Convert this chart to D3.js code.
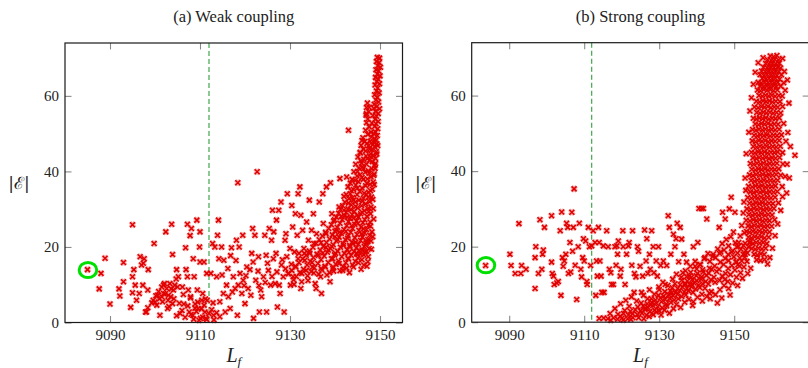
<!DOCTYPE html>
<html>
<head>
<meta charset="utf-8">
<script src="https://cdn.jsdelivr.net/npm/d3@7"></script>
<style>
  body { margin: 0; background: #fff; }
  .axis line { stroke: #8a8a8a; stroke-width: 1.1; }
</style>
</head>
<body>
<svg id="chart" width="808" height="368"></svg>
<script>
// tick labels and panel settings
const xTicks = [9090, 9110, 9130, 9150];
const yTicks = [0, 20, 40, 60];
const titles = ['(a) Weak coupling', '(b) Strong coupling'];
const thresholdLf = 9112;
const weakDomain = [9080, 9155];
const strongDomain = [9080, 9170];
const yDomain = [0, 74];
const weakMarked = [9085.1, 13.9];
const strongMarked = [9083.8, 15.1];

// (a) weak coupling: scattered samples
const weakScatter = [
  [9085.0,14.0],[9088.0,13.0],[9087.6,8.9],[9088.9,17.0],[9090.0,4.9],[9092.0,8.9],[9092.2,7.0],[9093.0,15.9],
  [9093.0,10.8],[9094.6,4.0],[9095.0,25.9],[9095.0,12.1],[9095.0,7.9],[9095.3,14.0],[9095.6,9.9],[9095.9,5.9],
  [9096.5,7.7],[9096.7,17.4],[9097.0,15.2],[9097.3,9.9],[9097.4,15.7],[9097.6,16.9],[9097.9,2.8],[9098.1,2.8],
  [9098.5,14.0],[9098.4,8.6],[9099.6,5.9],[9099.8,20.9],[9100.0,5.4],[9100.4,4.6],[9100.6,7.2],[9101.0,6.3],
  [9101.1,1.9],[9101.5,9.4],[9101.7,5.5],[9101.9,7.7],[9102.1,10.3],[9102.4,24.0],[9102.6,9.0],[9102.8,3.7],
  [9103.0,7.2],[9103.3,10.3],[9103.5,6.8],[9103.7,26.0],[9103.9,18.0],[9103.9,5.0],[9104.1,8.6],[9104.4,9.9],
  [9104.8,14.0],[9104.8,1.8],[9105.2,12.1],[9105.6,2.4],[9106.1,9.4],[9106.4,4.9],[9106.8,19.8],[9106.9,14.0],
  [9107.2,26.0],[9107.2,12.1],[9107.4,8.6],[9107.6,2.8],[9107.8,23.0],[9107.9,6.8],[9108.1,24.9],[9108.4,1.9],
  [9108.5,16.9],[9108.7,12.1],[9108.9,4.9],[9109.3,27.1],[9109.4,8.6],[9109.6,3.7],[9109.9,20.0],[9110.0,24.0],
  [9110.0,16.0],[9110.1,1.1],[9110.4,5.9],[9110.6,7.7],[9110.9,16.0],[9111.1,2.8],[9111.3,1.1],[9111.5,13.0],
  [9111.6,5.9],[9112.4,13.0],[9112.8,20.9],[9113.0,1.9],[9113.3,20.0],[9113.7,12.1],[9113.9,23.1],[9114.1,27.1],
  [9114.2,16.9],[9114.4,5.5],[9114.8,20.0],[9115.2,7.7],[9115.3,16.5],[9115.6,2.8],[9115.9,9.9],[9116.3,6.8],
  [9116.7,3.7],[9117.0,19.8],[9117.4,12.1],[9117.8,9.0],[9118.1,21.8],[9118.3,1.9],[9118.4,37.0],[9118.5,9.9],
  [9118.7,20.0],[9118.9,13.0],[9119.3,7.7],[9119.5,23.1],[9119.6,11.2],[9120.0,5.0],[9120.4,14.7],[9120.7,9.0],
  [9121.1,14.0],[9121.5,18.3],[9121.7,24.9],[9121.9,1.1],[9122.2,23.1],[9122.4,11.2],[9122.7,39.9],[9123.0,17.4],
  [9123.2,2.8],[9123.5,8.6],[9123.7,6.8],[9124.1,12.1],[9124.4,23.1],[9124.7,17.8],[9124.8,2.8],[9125.2,13.8],
  [9125.4,24.9],[9125.7,9.9],[9125.9,21.8],[9126.1,29.7],[9126.3,16.9],[9126.4,24.0],[9126.7,10.3],[9126.9,18.3],
  [9127.0,27.1],[9127.2,4.1],[9127.5,29.7],[9127.6,9.9],[9127.8,7.7],[9128.0,31.9],[9128.1,15.2],[9128.5,12.1],
  [9128.7,2.8],[9128.9,21.8],[9129.1,23.5],[9129.3,17.4],[9129.4,34.1],[9129.7,13.0],[9130.0,19.6],[9130.1,9.9],
  [9130.4,31.0],[9130.6,25.3],[9130.7,12.1],[9131.0,18.7],[9131.2,28.8],[9131.3,14.7],[9131.6,23.1],[9131.8,34.1],
  [9132.0,18.3],[9132.2,35.9],[9132.4,28.4],[9132.6,13.0],[9132.8,24.4],[9133.1,19.6],[9133.3,16.5],[9133.6,13.8],
  [9133.7,26.6],[9134.1,21.8],[9134.3,32.4],[9134.4,18.3],[9134.8,24.4],[9135.0,14.7],[9135.2,28.8],[9135.3,20.9],
  [9135.6,10.3],[9135.8,9.0],[9135.9,23.5],[9136.3,17.8],[9136.5,31.9],[9136.8,12.1],[9137.0,7.7],[9137.3,34.1],
  [9137.4,26.2],[9137.8,14.7],[9138.0,23.5],[9138.1,35.9],[9138.5,19.2],[9138.9,10.8],[9139.0,37.0],[9139.3,28.8],
  [9139.5,16.9],[9139.6,14.7],[9140.0,22.7],[9140.4,24.4],[9141.1,38.1],[9141.7,13.8],[9142.6,38.5],[9143.0,50.9],
  [9143.3,20.0],[9144.1,32.4],[9144.8,18.3],[9145.6,45.1],[9146.0,48.2],[9146.4,15.2],[9146.7,18.7],[9147.0,21.3],
  [9147.4,17.4],[9147.6,57.0],[9147.0,55.3]
];

// (a) weak coupling: clump near the threshold at low |E|
const weakLow = [
  [9100.8,8.2],[9101.5,6.8],[9102.3,7.6],[9102.9,5.9],[9103.6,8.9],[9104.2,6.3],[9101.9,9.9],[9100.2,7.1],
  [9103.1,4.2],[9105.4,5.1],[9106.0,3.2],[9106.7,1.4],[9107.3,4.4],[9108.0,2.1],[9108.6,0.9],[9109.2,2.9],
  [9109.8,0.6],[9110.3,3.6],[9110.9,4.6],[9111.5,0.8],[9112.0,2.4],[9112.6,3.4],[9113.1,0.7],[9113.7,2.6],
  [9114.4,1.5],[9111.2,6.2],[9109.5,5.4],[9107.9,6.5],[9106.3,7.4],[9105.0,9.4],[9104.7,11.5],[9099.3,5.2],
  [9098.4,3.9],[9112.9,5.2],[9110.6,1.4],[9108.9,3.8],[9117.2,8.1],[9119.8,9.8],[9121.3,7.2],[9122.9,13.6]
];

// (a) weak coupling: dense branch close to 9150
const weakCluster = [
  [9149.4,70.2],[9149.9,70.0],[9149.2,69.1],[9149.8,68.8],[9149.5,68.0],[9150.1,67.6],[9149.1,66.9],[9149.7,66.6],
  [9149.4,65.8],[9150.0,65.3],[9149.0,64.9],[9149.6,64.4],[9149.3,63.8],[9149.9,63.2],[9148.9,62.9],[9149.5,62.1],
  [9149.2,61.3],[9149.8,60.8],[9148.8,60.3],[9149.4,59.6],[9149.1,58.9],[9149.7,58.4],[9148.7,57.8],[9149.3,57.2],
  [9149.9,56.6],[9147.2,58.1],[9149.0,55.9],[9149.6,55.3],[9147.0,56.9],[9148.6,56.7],[9149.2,54.6],[9147.5,55.8],
  [9148.9,53.8],[9149.6,53.2],[9146.9,54.9],[9148.4,54.8],[9149.1,52.6],[9147.3,53.9],[9148.8,51.9],[9149.5,51.3],
  [9147.0,52.9],[9148.2,52.8],[9149.0,50.4],[9147.6,51.8],[9148.6,50.0],[9149.4,49.5],[9146.8,50.9],[9148.1,49.1],
  [9148.9,48.6],[9147.3,49.8],[9148.5,47.8],[9149.3,47.3],[9146.2,48.9],[9147.8,48.0],[9148.9,46.4],[9146.6,47.9],
  [9148.2,45.8],[9149.2,45.2],[9145.8,46.9],[9147.4,46.8],[9148.6,44.2],[9146.3,45.9],[9147.9,44.7],[9149.0,43.4],
  [9145.6,44.9],[9146.9,44.1],[9148.3,42.6],[9145.1,43.8],[9146.4,43.2],[9147.6,42.9],[9148.8,41.6],[9145.7,42.8],
  [9147.0,41.9],[9148.2,40.7],[9144.6,41.9],[9146.1,41.2],[9147.4,40.2],[9148.7,39.3],[9145.3,40.9],[9146.7,39.8],
  [9148.0,38.5],[9144.2,39.9],[9145.6,39.1],[9147.2,38.0],[9148.5,37.2],[9144.9,38.8],[9146.3,37.9],[9147.8,36.6],
  [9143.8,37.9],[9145.2,37.3],[9146.8,36.2],[9148.3,35.3],[9143.4,36.9],[9144.6,36.4],[9146.0,35.6],[9147.5,34.5],
  [9142.9,35.9],[9144.1,35.2],[9145.5,34.7],[9146.9,33.9],[9148.1,33.2],[9143.6,34.9],[9144.9,33.8],[9146.3,32.9],
  [9147.7,32.0],[9142.5,33.9],[9143.9,33.1],[9145.3,32.4],[9146.8,31.4],[9148.0,30.6],[9143.1,32.8],[9144.5,31.9],
  [9145.9,30.9],[9147.3,30.2],[9142.2,31.9],[9143.6,31.2],[9145.0,30.4],[9146.5,29.6],[9147.9,28.8],[9141.7,30.9],
  [9142.9,30.1],[9144.3,29.4],[9145.7,28.8],[9147.1,28.1],[9141.2,29.9],[9142.5,29.2],[9143.8,28.6],[9145.2,27.9],
  [9146.6,27.2],[9147.8,26.6],[9140.8,28.9],[9142.1,28.3],[9143.4,27.6],[9144.8,26.9],[9146.2,26.4],[9147.4,25.7],
  [9140.3,27.9],[9141.6,27.2],[9143.0,26.7],[9144.4,26.0],[9145.8,25.3],[9147.0,24.6],[9148.2,24.0],[9139.7,26.9],
  [9141.1,26.3],[9142.6,25.6],[9143.9,24.9],[9145.3,24.4],[9146.6,23.7],[9147.7,23.1],[9139.2,25.9],[9140.5,25.2],
  [9142.0,24.6],[9143.5,23.9],[9144.9,23.3],[9146.1,22.6],[9147.3,22.0],[9138.6,24.9],[9140.0,24.2],[9141.4,23.6],
  [9142.9,22.9],[9144.4,22.4],[9145.7,21.7],[9146.9,21.0],[9148.0,21.6],[9137.9,23.9],[9139.4,23.2],[9140.9,22.6],
  [9142.3,21.9],[9143.8,21.3],[9145.2,20.7],[9146.5,20.1],[9147.6,19.6],[9137.2,22.9],[9138.8,22.1],[9140.3,21.6],
  [9141.8,20.9],[9143.3,20.4],[9144.7,19.7],[9146.0,19.2],[9136.5,21.9],[9138.1,21.2],[9139.6,20.6],[9141.2,19.9],
  [9142.7,19.3],[9144.2,18.8],[9145.6,18.2],[9147.0,18.9],[9135.8,20.9],[9137.4,20.1],[9139.0,19.6],[9140.6,18.9],
  [9142.1,18.3],[9143.6,17.8],[9145.1,17.1],[9135.1,19.9],[9136.7,19.2],[9138.3,18.6],[9139.9,17.9],[9141.5,17.4],
  [9143.0,16.8],[9144.5,16.2],[9146.0,16.6],[9147.3,16.1],[9134.3,18.9],[9136.0,18.1],[9137.6,17.6],[9139.2,16.9],
  [9140.8,16.3],[9142.4,15.8],[9143.9,15.2],[9133.6,17.8],[9135.2,17.2],[9136.9,16.6],[9138.5,15.9],[9140.2,15.4],
  [9141.8,14.8],[9146.4,17.9],[9132.8,16.9],[9134.5,16.2],[9136.2,15.6],[9137.8,14.9],[9139.5,14.3],[9141.1,13.7],
  [9132.0,15.8],[9133.8,15.2],[9135.4,14.5],[9137.1,13.9],[9138.8,13.2],[9131.2,14.9],[9133.0,14.1],[9134.7,13.5],
  [9136.4,12.8],[9130.4,13.8],[9132.2,13.2],[9133.9,12.4],[9129.6,12.9],[9131.4,12.2],[9130.8,11.3],[9132.6,10.8]
];

// (a) weak coupling: extra samples filling the branch
const weakFill = [
  [9141.9,20.4],[9143.1,18.6],[9144.0,20.9],[9145.4,19.1],[9146.8,20.5],[9148.1,19.4],[9142.8,22.3],[9144.6,21.2],
  [9145.9,23.4],[9147.3,21.4],[9148.4,22.7],[9140.6,21.9],[9139.3,20.1],[9138.0,19.9],[9136.9,21.1],[9141.0,23.9],
  [9142.4,24.1],[9143.7,25.6],[9145.1,26.2],[9146.3,24.8],[9147.9,25.5],[9148.6,27.4],[9144.1,27.6],[9142.7,27.9],
  [9141.4,28.1],[9139.9,27.2],[9140.9,30.6],[9142.0,29.7],[9143.5,29.9],[9144.9,28.4],[9146.0,29.2],[9147.5,29.4],
  [9148.5,30.1],[9143.0,31.6],[9144.6,30.7],[9146.1,32.1],[9147.4,33.2],[9148.4,32.6],[9142.0,33.4],[9143.4,34.1],
  [9145.0,35.6],[9146.5,34.2],[9147.9,34.9],[9148.7,36.5],[9144.5,37.6],[9146.0,38.4],[9147.1,36.9],[9148.6,38.9],
  [9145.0,40.0],[9146.3,40.7],[9147.6,39.5],[9148.9,40.8],[9145.9,42.2],[9147.2,43.4],[9148.0,43.9],[9149.0,42.1],
  [9146.8,45.4],[9147.7,45.9],[9148.4,47.1],[9149.3,44.6],[9147.1,47.4],[9148.0,50.4],[9149.1,48.2],[9149.5,46.8],
  [9135.3,13.1],[9136.9,14.3],[9138.2,12.6],[9139.7,13.6],[9140.9,15.6],[9142.6,14.4],[9143.2,13.2],[9144.1,14.7],
  [9145.2,15.8],[9145.8,14.1],[9147.1,14.9],[9142.9,17.0],[9144.9,18.1],[9140.1,18.3],[9137.3,18.4],[9134.9,15.9],
  [9133.2,18.3],[9131.8,16.9],[9130.3,15.4],[9129.0,14.2],[9128.3,16.6],[9127.1,13.4],[9126.0,12.2],[9124.5,10.6],
  [9123.1,9.8],[9130.9,10.1],[9132.4,9.0],[9134.0,11.1],[9125.0,15.7],[9121.8,16.0],[9120.2,12.4],[9118.0,16.4],
  [9116.2,14.3],[9114.9,12.6],[9116.8,17.7]
];

// (b) strong coupling: scattered samples
const strongScatter = [
  [9083.7,15.0],[9090.2,18.0],[9090.5,15.0],[9091.6,12.9],[9092.6,26.1],[9093.1,12.9],[9093.3,15.0],[9094.5,14.0],
  [9096.9,8.9],[9096.9,17.1],[9097.1,20.0],[9097.8,12.9],[9098.2,27.1],[9098.7,14.0],[9098.9,18.0],[9099.1,19.1],
  [9099.4,25.1],[9101.3,28.2],[9101.3,15.9],[9101.5,12.9],[9101.8,12.2],[9102.0,10.0],[9102.7,10.4],[9103.1,10.8],
  [9103.6,24.2],[9103.8,7.1],[9104.0,29.2],[9104.2,17.1],[9104.4,14.8],[9104.7,16.2],[9105.1,18.0],[9105.3,26.2],
  [9105.6,25.1],[9105.8,12.9],[9106.2,21.1],[9106.4,13.3],[9106.7,29.1],[9106.9,18.8],[9107.1,25.1],[9107.3,35.3],
  [9107.6,15.1],[9108.0,6.0],[9108.4,20.0],[9108.7,26.2],[9109.1,14.0],[9109.3,12.0],[9109.6,17.1],[9109.8,22.1],
  [9110.0,16.2],[9110.4,21.5],[9110.7,10.8],[9110.8,10.0],[9111.1,25.1],[9111.4,20.0],[9111.7,15.0],[9112.0,20.2],
  [9112.4,24.2],[9112.9,21.1],[9113.1,7.1],[9113.3,16.2],[9113.5,12.2],[9113.8,25.1],[9114.0,21.1],[9114.2,16.2],
  [9114.5,12.2],[9114.7,7.9],[9115.1,20.2],[9115.3,7.9],[9116.0,24.2],[9116.4,20.0],[9116.7,14.0],[9117.1,13.1],
  [9117.3,10.0],[9117.8,10.0],[9118.2,20.0],[9118.5,15.1],[9118.7,20.2],[9118.9,18.0],[9119.1,21.5],[9119.6,12.2],
  [9119.8,14.0],[9120.3,24.2],[9120.4,20.0],[9120.9,10.0],[9121.3,18.0],[9121.8,20.2],[9122.0,21.1],[9122.7,15.1],
  [9122.9,24.2],[9123.4,12.9],[9123.8,12.0],[9124.2,20.0],[9124.5,18.8],[9124.9,14.8],[9125.3,7.9],[9125.6,12.2],
  [9126.1,24.4],[9126.5,16.2],[9126.7,22.1],[9127.0,12.9],[9127.4,18.0],[9127.6,14.0],[9128.0,24.2],[9128.4,20.0],
  [9128.6,13.1],[9129.2,16.2],[9129.5,12.2],[9129.8,20.0],[9130.0,8.6],[9130.4,15.0],[9131.1,16.2],[9131.6,10.0],
  [9132.0,15.0],[9132.4,28.2],[9132.7,25.1],[9133.1,18.0],[9133.3,7.7],[9133.8,23.3],[9134.2,20.0],[9134.5,22.1],
  [9134.8,26.2],[9135.2,16.0],[9135.6,25.1],[9136.0,22.0],[9136.3,13.1],[9136.6,18.0],[9136.9,10.0],[9137.3,15.9],
  [9138.0,12.2],[9138.7,10.0],[9139.1,20.0],[9139.6,14.8],[9140.3,21.1],[9140.6,30.1],[9141.3,30.1],[9141.8,30.1],
  [9142.2,17.1],[9142.7,27.3],[9143.4,7.7],[9144.0,14.0],[9144.4,18.0],[9145.5,5.1],[9146.0,25.1],[9146.4,18.6],
  [9146.9,29.1],[9147.6,27.3],[9148.3,10.8],[9148.7,30.0],[9149.2,33.1],[9149.8,23.9],[9150.2,29.1],[9166.2,44.2],
  [9164.7,38.2],[9164.0,34.2]
];

// (b) strong coupling: rising band from the threshold
const strongBand = [
  [9114.0,1.0],[9115.2,1.1],[9116.3,0.9],[9117.8,1.2],[9118.9,0.8],[9120.1,1.1],[9121.6,0.9],[9123.0,1.2],
  [9119.0,2.1],[9120.5,2.3],[9121.8,1.9],[9122.9,2.2],[9124.2,2.0],[9125.4,2.4],[9126.6,1.9],
  [9120.8,3.1],[9122.3,2.9],[9123.6,3.3],[9125.0,3.0],[9126.2,3.4],[9127.5,2.8],[9128.8,3.2],[9130.0,3.0],
  [9122.0,4.2],[9124.3,4.0],[9125.7,4.3],[9127.0,3.9],[9128.3,4.4],[9129.6,4.1],[9130.8,3.8],[9132.0,4.3],
  [9125.2,5.1],[9126.8,4.9],[9128.0,5.3],[9129.3,5.0],[9130.6,5.4],[9131.9,4.8],[9133.1,5.2],
  [9127.9,6.2],[9129.0,5.9],[9130.3,6.4],[9131.6,6.0],[9132.8,6.3],[9134.0,5.9],[9135.1,6.2],
  [9129.8,7.1],[9131.2,6.9],[9132.5,7.3],[9133.7,7.0],[9134.9,7.4],[9136.0,6.8],[9137.1,7.2],
  [9131.5,8.1],[9133.0,8.3],[9134.3,7.9],[9135.5,8.4],[9136.7,8.0],[9137.8,8.3],[9139.0,7.9],
  [9133.5,9.1],[9134.9,8.9],[9136.2,9.3],[9137.4,9.0],[9138.6,9.4],[9139.7,8.8],[9140.8,9.2],[9142.2,9.0],
  [9134.2,10.2],[9135.6,9.9],[9136.9,10.3],[9138.1,10.0],[9139.3,10.4],[9140.5,9.8],[9141.6,10.2],[9143.1,10.1],
  [9136.0,11.1],[9137.5,10.9],[9138.8,11.3],[9140.0,11.0],[9141.2,11.4],[9142.4,10.8],[9143.8,11.2],
  [9137.3,12.1],[9138.6,11.9],[9139.9,12.3],[9141.3,12.0],[9142.6,12.4],[9144.6,11.9],[9146.8,12.2],
  [9138.4,13.2],[9140.2,12.9],[9141.7,13.3],[9143.2,13.0],[9145.3,13.4],[9147.7,12.9],
  [9140.0,14.1],[9141.6,13.9],[9143.4,14.3],[9146.0,14.0],[9148.4,14.2],
  [9141.0,15.2],[9144.8,14.9],[9147.2,15.3],[9149.4,15.0],[9151.0,15.2],
  [9143.5,16.1],[9146.3,15.9],[9148.5,16.3],[9150.6,16.0],[9152.0,16.2],
  [9145.0,17.1],[9147.6,16.9],[9149.9,17.3],[9151.5,17.0],[9152.8,17.2],
  [9146.1,18.2],[9148.4,17.9],[9150.9,18.3],[9152.4,18.0],[9153.5,18.3],
  [9147.3,19.1],[9149.6,18.9],[9151.8,19.3],[9153.1,19.0],
  [9148.5,20.2],[9150.7,19.9],[9152.5,20.3],[9153.8,20.0],
  [9151.2,21.1],[9152.9,20.9],[9154.2,21.3]
];

// (b) strong coupling: extra samples thickening the band
const strongBandFill = [
  [9116.9,2.3],[9118.2,3.6],[9119.7,4.9],[9121.1,5.8],[9122.6,6.7],[9124.0,5.6],[9123.3,7.9],[9125.8,7.1],
  [9126.9,6.2],[9127.4,8.6],[9128.7,7.4],[9129.9,9.3],[9131.0,10.6],[9132.3,9.7],[9133.6,11.4],[9134.6,12.7],
  [9135.9,11.9],[9137.0,13.6],[9138.3,14.8],[9139.6,16.1],[9140.8,15.3],[9142.0,16.8],[9143.0,18.2],[9144.3,17.4],
  [9145.6,19.4],[9146.8,20.8],[9147.9,21.9],[9149.1,22.6],[9150.3,21.0],[9151.6,22.8],[9152.7,23.7],[9126.3,3.7],
  [9127.8,4.6],[9129.2,2.7],[9130.5,1.9],[9131.4,3.2],[9132.7,2.4],[9133.8,3.6],[9134.6,4.7],[9135.7,3.9],
  [9136.8,5.3],[9137.9,6.1],[9139.1,5.4],[9140.2,6.6],[9141.4,7.4],[9142.7,6.8],[9143.9,8.1],[9145.0,7.3],
  [9146.2,8.6],[9147.3,9.7],[9148.5,8.9],[9149.6,10.4],[9150.6,11.9],[9151.7,13.1],[9152.6,14.6],[9153.4,16.1],
  [9144.9,10.6],[9146.1,11.1],[9147.5,11.3],[9149.0,12.6],[9150.2,13.8],[9151.4,14.9],[9120.4,0.6],[9122.4,0.8],
  [9124.5,1.2],[9125.9,0.9],[9127.3,1.5],[9128.4,2.0],[9117.1,0.5],[9119.6,1.6],[9138.9,4.4],[9141.5,5.6],
  [9143.6,6.2],[9146.7,6.4],[9148.9,7.2],[9150.9,9.7],[9152.2,11.6],[9153.6,12.9],[9154.4,14.3],[9150.5,15.9],
  [9152.9,17.9],[9149.3,18.6],[9151.1,20.1]
];

// (b) strong coupling: dense column around 9158
const strongColumn = [
  [9159.6,70.5],[9160.5,70.3],[9161.4,70.6],[9158.9,69.5],[9159.9,69.3],[9160.8,69.6],[9161.8,69.4],
  [9158.4,68.5],[9159.3,68.3],[9160.2,68.6],[9161.1,68.4],[9162.0,68.6],
  [9157.8,67.5],[9158.8,67.3],[9159.7,67.6],[9160.6,67.4],[9161.6,67.6],[9162.4,67.3],
  [9157.3,66.5],[9158.3,66.3],[9159.2,66.6],[9160.1,66.4],[9161.0,66.6],[9161.9,66.3],
  [9156.9,65.5],[9157.9,65.3],[9158.8,65.6],[9159.7,65.4],[9160.5,65.6],[9161.4,65.3],[9162.6,65.5],
  [9157.5,64.5],[9158.4,64.3],[9159.3,64.6],[9160.2,64.4],[9161.0,64.6],[9162.1,64.3],
  [9156.4,63.5],[9157.2,63.3],[9158.1,63.6],[9159.0,63.4],[9159.8,63.6],[9160.7,63.3],[9161.6,63.5],[9163.2,63.4],
  [9156.9,62.5],[9157.8,62.3],[9158.7,62.6],[9159.5,62.4],[9160.3,62.6],[9161.2,62.3],[9162.4,62.5],
  [9156.2,61.5],[9157.0,61.3],[9157.9,61.6],[9158.8,61.4],[9159.6,61.6],[9160.5,61.3],[9161.5,61.5],[9163.6,61.4],
  [9156.6,60.0],[9157.5,59.8],[9158.4,60.1],[9159.2,59.9],[9160.0,60.1],[9160.9,59.8],[9161.9,60.0],[9162.8,59.9],
  [9155.9,58.5],[9156.8,58.3],[9157.7,58.6],[9158.5,58.4],[9159.4,58.6],[9160.2,58.3],[9161.1,58.5],[9162.2,58.4],
  [9155.4,57.0],[9156.4,56.8],[9157.3,57.1],[9158.1,56.9],[9159.0,57.1],[9159.8,56.8],[9160.7,57.0],[9161.6,56.9],[9162.9,57.1],
  [9156.0,55.5],[9156.9,55.3],[9157.8,55.6],[9158.6,55.4],[9159.5,55.6],[9160.4,55.3],[9161.3,55.5],[9162.4,55.4],
  [9155.1,54.0],[9155.9,53.8],[9156.7,54.1],[9157.6,53.9],[9158.4,54.1],[9159.3,53.8],[9160.1,54.0],[9161.0,53.9],[9162.0,54.1],
  [9155.6,52.5],[9156.5,52.3],[9157.3,52.6],[9158.1,52.4],[9159.0,52.6],[9159.8,52.3],[9160.7,52.5],[9161.7,52.4],[9163.2,52.6],
  [9154.9,51.0],[9155.8,50.8],[9156.6,51.1],[9157.5,50.9],[9158.3,51.1],[9159.2,50.8],[9160.0,51.0],[9160.9,50.9],[9162.0,51.1],
  [9155.3,49.5],[9156.2,49.3],[9157.0,49.6],[9157.9,49.4],[9158.7,49.6],[9159.6,49.3],[9160.5,49.5],[9161.4,49.4],[9162.6,49.6],
  [9154.8,48.0],[9155.7,47.8],[9156.6,48.1],[9157.4,47.9],[9158.3,48.1],[9159.1,47.8],[9160.0,48.0],[9160.9,47.9],[9162.0,48.1],[9163.8,47.9],
  [9155.1,46.5],[9156.0,46.3],[9156.9,46.6],[9157.7,46.4],[9158.6,46.6],[9159.4,46.3],[9160.3,46.5],[9161.2,46.4],[9162.3,46.6],
  [9154.6,45.0],[9155.5,44.8],[9156.4,45.1],[9157.2,44.9],[9158.1,45.1],[9158.9,44.8],[9159.8,45.0],[9160.7,44.9],[9161.6,45.1],[9162.9,44.9],
  [9155.0,43.5],[9155.9,43.3],[9156.7,43.6],[9157.6,43.4],[9158.4,43.6],[9159.3,43.3],[9160.1,43.5],[9161.0,43.4],[9162.1,43.6],
  [9154.3,42.0],[9155.2,41.8],[9156.1,42.1],[9157.0,41.9],[9157.8,42.1],[9158.7,41.8],[9159.5,42.0],[9160.4,41.9],[9161.4,42.1],[9163.0,41.9],
  [9154.7,40.5],[9155.6,40.3],[9156.5,40.6],[9157.3,40.4],[9158.2,40.6],[9159.0,40.3],[9159.9,40.5],[9160.8,40.4],[9161.9,40.6],
  [9154.1,39.0],[9155.0,38.8],[9155.9,39.1],[9156.8,38.9],[9157.6,39.1],[9158.5,38.8],[9159.3,39.0],[9160.2,38.9],[9161.2,39.1],[9162.4,38.9],
  [9154.5,37.5],[9155.4,37.3],[9156.2,37.6],[9157.1,37.4],[9157.9,37.6],[9158.8,37.3],[9159.7,37.5],[9160.6,37.4],[9161.6,37.6],
  [9153.8,36.0],[9154.8,35.8],[9155.7,36.1],[9156.6,35.9],[9157.4,36.1],[9158.3,35.8],[9159.1,36.0],[9160.0,35.9],[9161.0,36.1],[9162.8,35.9],
  [9154.3,34.5],[9155.2,34.3],[9156.0,34.6],[9156.9,34.4],[9157.7,34.6],[9158.6,34.3],[9159.5,34.5],[9160.5,34.4],[9161.5,34.6],
  [9153.6,33.0],[9154.6,32.8],[9155.5,33.1],[9156.3,32.9],[9157.2,33.1],[9158.0,32.8],[9158.9,33.0],[9159.8,32.9],[9160.9,33.1],
  [9154.1,31.5],[9155.0,31.3],[9155.8,31.6],[9156.7,31.4],[9157.5,31.6],[9158.4,31.3],[9159.3,31.5],[9160.3,31.4],[9161.8,31.6],
  [9153.4,30.0],[9154.4,29.8],[9155.3,30.1],[9156.1,29.9],[9157.0,30.1],[9157.8,29.8],[9158.7,30.0],[9159.6,29.9],[9160.6,30.1],
  [9153.9,28.5],[9154.8,28.3],[9155.6,28.6],[9156.5,28.4],[9157.3,28.6],[9158.2,28.3],[9159.1,28.5],[9160.1,28.4],
  [9153.2,27.0],[9154.2,26.8],[9155.1,27.1],[9155.9,26.9],[9156.8,27.1],[9157.6,26.8],[9158.5,27.0],[9159.4,26.9],[9160.8,27.1],
  [9153.7,25.5],[9154.6,25.3],[9155.4,25.6],[9156.3,25.4],[9157.1,25.6],[9158.0,25.3],[9158.9,25.5],[9160.0,25.4],
  [9153.3,24.0],[9154.1,23.8],[9155.0,24.1],[9155.8,23.9],[9156.7,24.1],[9157.5,23.8],[9158.4,24.0],[9159.4,23.9],
  [9153.8,22.5],[9154.6,22.3],[9155.5,22.6],[9156.3,22.4],[9157.2,22.6],[9158.1,22.3],[9159.2,22.5],
  [9154.2,21.0],[9155.0,20.8],[9155.9,21.1],[9156.8,20.9],[9157.7,21.1],[9158.7,20.8],
  [9154.7,19.5],[9155.6,19.3],[9156.5,19.6],[9157.4,19.4],[9158.4,19.6],
  [9155.3,18.0],[9156.2,17.8],[9157.1,18.1],[9158.0,17.9],
  [9156.0,16.5],[9157.0,16.3],[9158.1,16.6]
];

// (b) strong coupling: ragged edge of the column
const strongEdge = [
  [9152.9,38.2],[9153.2,44.6],[9153.9,50.3],[9154.2,55.9],[9154.6,59.4],[9155.1,63.0],[9155.6,66.2],[9156.4,68.7],
  [9157.7,70.0],[9162.9,69.8],[9163.4,66.4],[9164.2,64.1],[9164.6,58.0],[9164.3,50.2],[9165.0,46.5],[9164.1,41.8],
  [9163.6,38.6],[9162.9,33.2],[9162.4,29.6],[9161.6,26.0],[9160.9,22.9],[9160.2,19.6],[9159.5,17.1],[9158.9,15.4],
  [9152.4,28.9],[9152.0,25.6],[9152.6,31.8],[9153.1,34.9]
];

const svg = d3.select('#chart');
const serif = '"Liberation Serif", "Times New Roman", Tinos, "DejaVu Serif", serif';
const plotWidth = 337.5;
const plotHeight = 279.5;
const markPath = 'M-2.5,-2.5L2.5,2.5M-2.5,2.5L2.5,-2.5';

function drawPanel(opt) {
  const g = svg.append('g').attr('transform', `translate(${opt.left},${opt.top})`);

  const x = d3.scaleLinear().domain(opt.domain).range([0, plotWidth]);
  const y = d3.scaleLinear().domain(yDomain).range([plotHeight, 0]);
  const noLabel = () => '';
  const tidy = a => {
    a.attr('font-family', serif).attr('font-size', 15);
    a.selectAll('text').attr('fill', '#222');
    a.select('.domain').remove();
  };

  g.append('g').attr('class', 'axis')
    .attr('transform', `translate(0,${plotHeight})`)
    .call(d3.axisBottom(x).tickValues(xTicks).tickFormat(d3.format('d')).tickSize(-6.5).tickPadding(7))
    .call(tidy);
  g.append('g').attr('class', 'axis')
    .call(d3.axisTop(x).tickValues(xTicks).tickFormat(noLabel).tickSize(-6.5))
    .call(tidy);
  g.append('g').attr('class', 'axis')
    .call(d3.axisLeft(y).tickValues(yTicks).tickSize(-6.5).tickPadding(6))
    .call(tidy);
  g.append('g').attr('class', 'axis')
    .attr('transform', `translate(${plotWidth},0)`)
    .call(d3.axisRight(y).tickValues(yTicks).tickFormat(noLabel).tickSize(-6.5))
    .call(tidy);

  // threshold marker
  g.append('line')
    .attr('x1', x(thresholdLf)).attr('x2', x(thresholdLf))
    .attr('y1', 0).attr('y2', plotHeight)
    .attr('stroke', '#2f9e3b').attr('stroke-width', 1.1)
    .attr('stroke-dasharray', '5,3');

  // soft pink halo under every cross, then the red cross itself
  const place = d => `translate(${x(d[0])},${y(d[1])})`;
  g.append('g')
    .selectAll('path')
    .data(opt.points)
    .join('path')
    .attr('transform', place)
    .attr('d', markPath)
    .attr('stroke', '#f38a8a')
    .attr('stroke-opacity', 0.7)
    .attr('stroke-width', 3.6)
    .attr('fill', 'none');
  g.append('g')
    .selectAll('path')
    .data(opt.points)
    .join('path')
    .attr('transform', place)
    .attr('d', markPath)
    .attr('stroke', '#e00000')
    .attr('stroke-width', 1.5)
    .attr('fill', 'none');

  g.append('ellipse')
    .attr('cx', x(opt.marked[0])).attr('cy', y(opt.marked[1]))
    .attr('rx', 8.8).attr('ry', 7.6)
    .attr('fill', 'none').attr('stroke', '#00e000').attr('stroke-width', 3);

  g.append('rect')
    .attr('width', plotWidth).attr('height', plotHeight)
    .attr('fill', 'none').attr('stroke', '#1a1a1a').attr('stroke-width', 1.2);

  // titles and axis labels
  svg.append('text')
    .attr('x', opt.left + plotWidth / 2).attr('y', 22)
    .attr('text-anchor', 'middle').attr('font-size', 16.5)
    .attr('font-family', serif).attr('fill', '#222')
    .text(opt.title);

  const xl = svg.append('text')
    .attr('x', opt.left + plotWidth / 2).attr('y', 362)
    .attr('text-anchor', 'middle').attr('font-size', 20).attr('font-style', 'italic')
    .attr('font-family', serif).attr('fill', '#222');
  xl.append('tspan').text('L');
  xl.append('tspan').attr('font-size', 13).attr('dy', 4).text('f');

  svg.append('text')
    .attr('x', opt.left - 46).attr('y', 189)
    .attr('text-anchor', 'middle').attr('font-size', 17)
    .attr('font-family', '"DejaVu Serif", serif').attr('fill', '#222')
    .text('|ℰ|');
}

drawPanel({
  left: 65, top: 43, domain: weakDomain, title: titles[0], marked: weakMarked,
  points: weakScatter.concat(weakLow, weakCluster, weakFill)
});
drawPanel({
  left: 471.7, top: 42.7, domain: strongDomain, title: titles[1], marked: strongMarked,
  points: strongScatter.concat(strongBand, strongBandFill, strongColumn, strongEdge)
});
</script>
</body>
</html>
